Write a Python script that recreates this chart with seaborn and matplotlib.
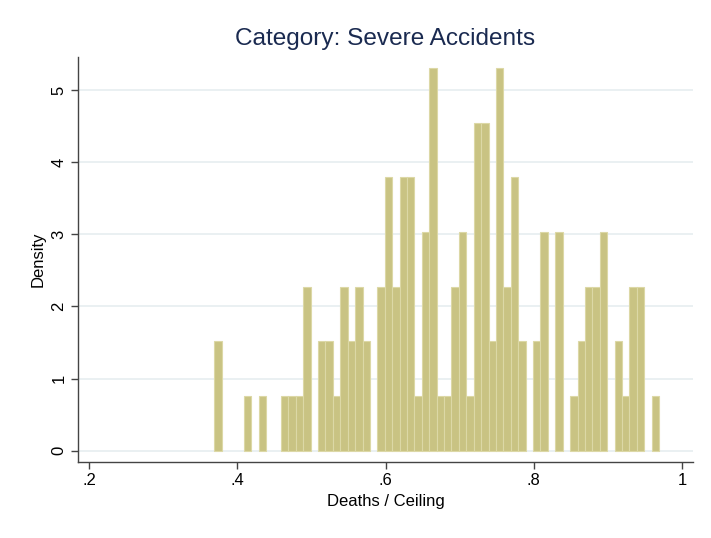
import pandas as pd
import seaborn as sns
import matplotlib
matplotlib.use('Agg')
import matplotlib.pyplot as plt

# histogram: width .01 bins starting at .369
bin_start = 0.369
bin_width = 0.01
counts = [2, 0, 0, 0, 1, 0, 1, 0, 0, 1,
          1, 1, 3, 0, 2, 2, 1, 3, 2, 3,
          2, 0, 3, 5, 3, 5, 5, 1, 4, 7,
          1, 1, 3, 4, 1, 6, 6, 2, 7, 3,
          5, 2, 0, 2, 4, 0, 4, 0, 1, 2,
          3, 3, 4, 0, 2, 1, 3, 3, 0, 1]
x_ticks = [0.2, 0.4, 0.6, 0.8, 1.0]
x_ticklabels = ['.2', '.4', '.6', '.8', '1']
y_ticks = [0, 1, 2, 3, 4, 5]

sns.set_style('white')
plt.rcParams['font.family'] = ['Liberation Sans', 'DejaVu Sans']

nbins = len(counts)
bin_end = bin_start + bin_width * nbins
df = pd.DataFrame({
    'ratio': [bin_start + bin_width * (i + 0.5) for i in range(nbins)],
    'n': [float(c) for c in counts],
})

fig = plt.figure(figsize=(7.11, 5.38), dpi=100)
ax = fig.add_axes([0.1093, 0.1413, 0.8658, 0.7522])

sns.histplot(
    data=df,
    x='ratio',
    weights='n',
    bins=nbins,
    binrange=(bin_start, bin_end),
    stat='density',
    color='#c9c383',
    edgecolor='#dcd8a6',
    linewidth=0.8,
    alpha=1,
    ax=ax,
    zorder=2,
)
# empty bins should not leave an outline on the baseline
for p in ax.patches:
    if p.get_height() == 0:
        p.set_visible(False)

ax.set_xlim(0.1848, 1.0152)
ax.set_ylim(-0.157, 5.453)
ax.set_xticks(x_ticks)
ax.set_xticklabels(x_ticklabels)
ax.set_yticks(y_ticks)
ax.set_yticklabels([str(v) for v in y_ticks], rotation=90, va='center')

for v in y_ticks:
    ax.axhline(v, color='#e6eef0', lw=1.2, zorder=1)

for side in ['top', 'right']:
    ax.spines[side].set_visible(False)
for side in ['left', 'bottom']:
    ax.spines[side].set_color('#444444')
    ax.spines[side].set_linewidth(1.0)

ax.tick_params(axis='both', which='major', length=5, width=1,
               color='#444444', labelsize=12, labelcolor='black',
               bottom=True, left=True, pad=3)

ax.set_xlabel('Deaths / Ceiling', fontsize=12, color='black', labelpad=4)
ax.set_ylabel('Density', fontsize=12, color='black', labelpad=4)
ax.set_title('Category: Severe Accidents', fontsize=17.6, color='#1a2a50', pad=9)

fig.savefig('out.png', dpi=100)
